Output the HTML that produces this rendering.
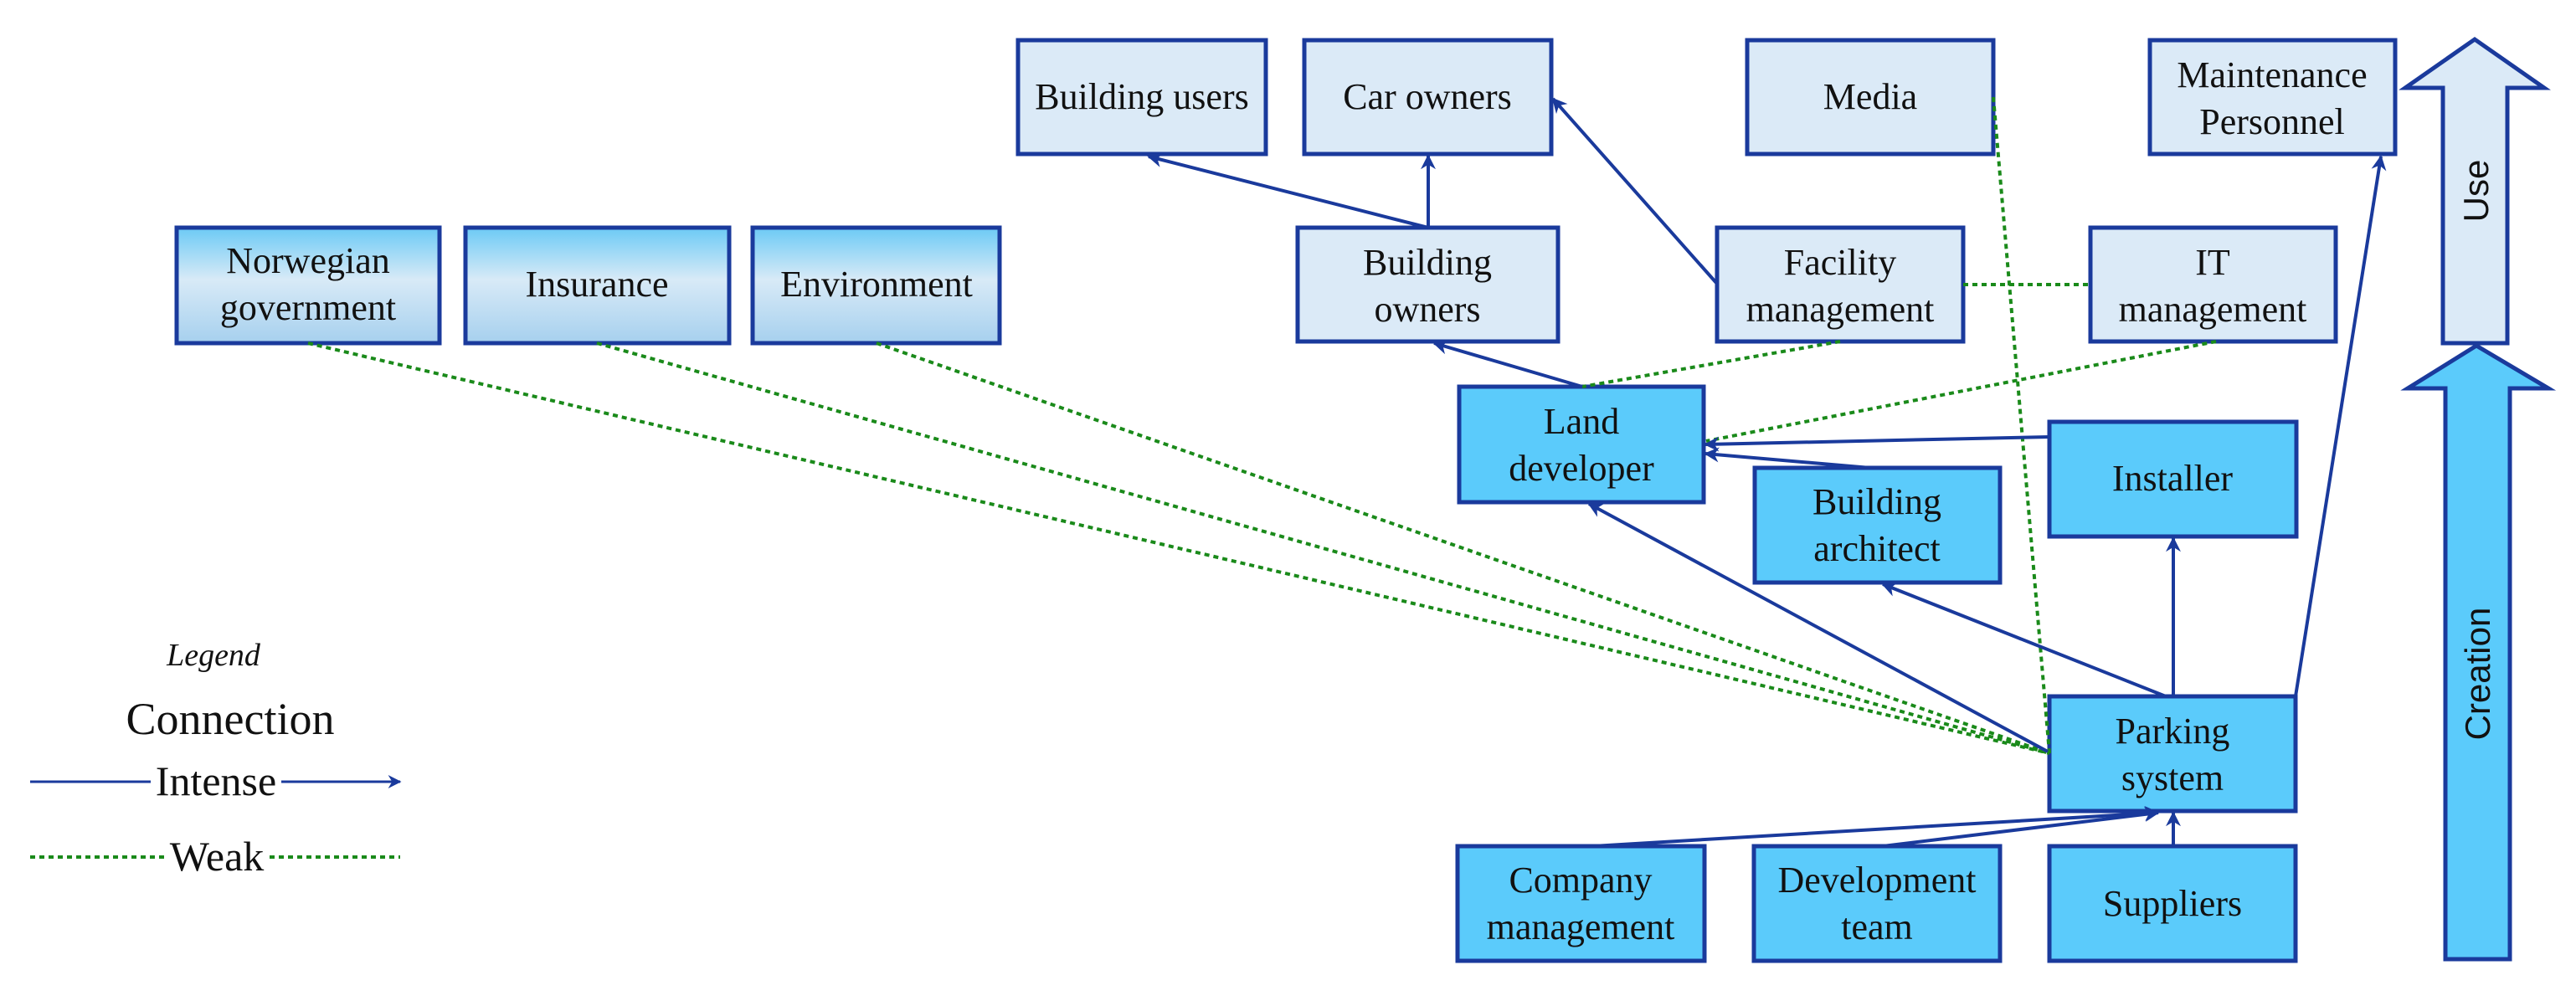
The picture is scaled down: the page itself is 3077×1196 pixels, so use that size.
<!DOCTYPE html>
<html><head><meta charset="utf-8"><style>
html,body{margin:0;padding:0;background:#fff;}
svg{display:block;}
text{font-family:"Liberation Serif",serif;fill:#111;}
</style></head><body>
<svg width="3077" height="1196" viewBox="0 0 3077 1196" xmlns="http://www.w3.org/2000/svg">
<defs>
<marker id="ahb" viewBox="0 0 10 10" refX="9" refY="5" markerWidth="18" markerHeight="18" orient="auto" markerUnits="userSpaceOnUse">
<path d="M0,0 L10,5 L0,10 L3,5 z" fill="#1a3a9c"/></marker>
<marker id="ahg" viewBox="0 0 10 10" refX="9" refY="5" markerWidth="16" markerHeight="16" orient="auto" markerUnits="userSpaceOnUse">
<path d="M0,0 L10,5 L0,10 L3,5 z" fill="#1a3a9c"/></marker>
<linearGradient id="gr" x1="0" y1="0" x2="0" y2="1">
<stop offset="0" stop-color="#6ccaf5"/><stop offset="0.45" stop-color="#d8eaf7"/><stop offset="1" stop-color="#a6d0ee"/></linearGradient>
</defs>

<g stroke="#1a3a9c" stroke-width="5">
<rect x="1216" y="48" width="296" height="136" fill="#dbeaf7"/>
<rect x="1558" y="48" width="295" height="136" fill="#dbeaf7"/>
<rect x="2087" y="48" width="294" height="136" fill="#dbeaf7"/>
<rect x="2568" y="48" width="293" height="136" fill="#dbeaf7"/>
<rect x="1550" y="272" width="311" height="136" fill="#dbeaf7"/>
<rect x="2051" y="272" width="294" height="136" fill="#dbeaf7"/>
<rect x="2497" y="272" width="293" height="136" fill="#dbeaf7"/>
<rect x="211" y="272" width="314" height="138" fill="url(#gr)"/>
<rect x="556" y="272" width="315" height="138" fill="url(#gr)"/>
<rect x="899" y="272" width="295" height="138" fill="url(#gr)"/>
<rect x="1743" y="462" width="292" height="138" fill="#5bcbfb"/>
<rect x="2096" y="559" width="293" height="137" fill="#5bcbfb"/>
<rect x="2448" y="504" width="295" height="137" fill="#5bcbfb"/>
<rect x="2448" y="832" width="294" height="137" fill="#5bcbfb"/>
<rect x="1741" y="1011" width="295" height="137" fill="#5bcbfb"/>
<rect x="2095" y="1011" width="294" height="137" fill="#5bcbfb"/>
<rect x="2448" y="1011" width="294" height="137" fill="#5bcbfb"/>
<path d="M2956,47 L3039,105 L2995,105 L2995,410 L2918,410 L2918,105 L2873,105 Z" fill="#dbeaf7"/>
<path d="M2958,413 L3044,464 L2998,464 L2998,1146 L2921,1146 L2921,464 L2876,464 Z" fill="#5bcbfb"/>
</g>

<g stroke="#1a8a1a" stroke-width="4" stroke-dasharray="6,5" fill="none">
<line x1="368" y1="410" x2="2448" y2="900"/>
<line x1="713" y1="410" x2="2448" y2="900"/>
<line x1="1047" y1="410" x2="2448" y2="900"/>
<line x1="2381" y1="116" x2="2448" y2="900"/>
<line x1="2345" y1="340" x2="2497" y2="340"/>
<line x1="2198" y1="408" x2="1890" y2="462"/>
<line x1="2647" y1="408" x2="2038" y2="527"/>
</g>

<g stroke="#1a3a9c" stroke-width="4" fill="none" marker-end="url(#ahb)">
<line x1="2448" y1="522" x2="2037" y2="531"/>
<line x1="2234" y1="559" x2="2037" y2="542"/>
<line x1="1890" y1="462" x2="1713" y2="410"/>
<line x1="2051" y1="339" x2="1855" y2="118"/>
<line x1="1706" y1="272" x2="1706" y2="186"/>
<line x1="1706" y1="272" x2="1372" y2="187"/>
<line x1="2742" y1="832" x2="2844" y2="187"/>
<line x1="2596" y1="832" x2="2596" y2="643"/>
<line x1="2587" y1="832" x2="2249" y2="698"/>
<line x1="2446" y1="898" x2="1898" y2="602"/>
<line x1="1902" y1="1011" x2="2578" y2="971"/>
<line x1="2249" y1="1011" x2="2578" y2="971"/>
<line x1="2596" y1="1011" x2="2596" y2="971"/>
</g>

<g font-size="44" text-anchor="middle">
<text x="1364" y="130">Building users</text>
<text x="1705" y="130">Car owners</text>
<text x="2234" y="130">Media</text>
<text x="2714" y="104">Maintenance</text>
<text x="2714" y="160">Personnel</text>
<text x="1705" y="328">Building</text>
<text x="1705" y="384">owners</text>
<text x="2198" y="328">Facility</text>
<text x="2198" y="384">management</text>
<text x="2643" y="328">IT</text>
<text x="2643" y="384">management</text>
<text x="368" y="326">Norwegian</text>
<text x="368" y="382">government</text>
<text x="713" y="354">Insurance</text>
<text x="1047" y="354">Environment</text>
<text x="1889" y="518">Land</text>
<text x="1889" y="574">developer</text>
<text x="2242" y="614">Building</text>
<text x="2242" y="670">architect</text>
<text x="2595" y="586">Installer</text>
<text x="2595" y="888">Parking</text>
<text x="2595" y="944">system</text>
<text x="1888" y="1066">Company</text>
<text x="1888" y="1122">management</text>
<text x="2242" y="1066">Development</text>
<text x="2242" y="1122">team</text>
<text x="2595" y="1094">Suppliers</text>
</g>
<text x="2972" y="228" font-size="42" text-anchor="middle" transform="rotate(-90 2972 228)" style="font-family:'Liberation Sans',sans-serif">Use</text>
<text x="2974" y="805" font-size="42" text-anchor="middle" transform="rotate(-90 2974 805)" style="font-family:'Liberation Sans',sans-serif">Creation</text>

<text x="255" y="795" font-size="38" font-style="italic" text-anchor="middle">Legend</text>
<text x="275" y="877" font-size="54" text-anchor="middle">Connection</text>
<line x1="36" y1="934" x2="180" y2="934" stroke="#1a3a9c" stroke-width="3"/>
<line x1="336" y1="934" x2="478" y2="934" stroke="#1a3a9c" stroke-width="3" marker-end="url(#ahg)"/>
<text x="258" y="950" font-size="50" text-anchor="middle">Intense</text>
<line x1="36" y1="1024" x2="196" y2="1024" stroke="#1a8a1a" stroke-width="4" stroke-dasharray="6,5"/>
<line x1="322" y1="1024" x2="478" y2="1024" stroke="#1a8a1a" stroke-width="4" stroke-dasharray="6,5"/>
<text x="259" y="1040" font-size="50" text-anchor="middle">Weak</text>
</svg>
</body></html>
